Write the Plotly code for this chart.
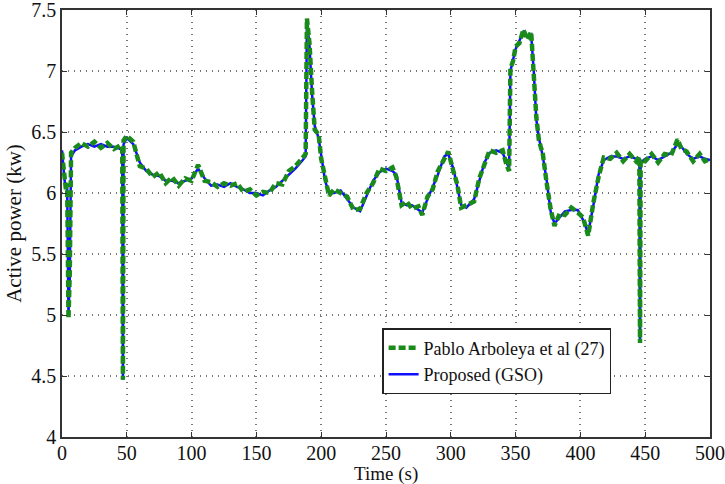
import plotly.graph_objects as go

time_s = [0, 2, 3, 4, 5, 6, 7, 10, 15, 20, 25, 30, 35, 40, 45, 46.5, 47, 47.5, 50, 55,
          60, 65, 70, 75, 80, 85, 90, 95, 100, 105, 110, 115, 120, 125, 130, 135, 140, 145, 150, 155,
          160, 165, 170, 175, 180, 185, 188, 189, 191, 193, 195, 198, 200, 203, 206, 210, 215, 220, 225, 230,
          235, 240, 245, 250, 255, 258, 262, 266, 270, 275, 278, 282, 286, 290, 295, 298, 302, 305, 308, 312,
          318, 322, 326, 330, 335, 340, 343, 345, 346, 348, 350, 353, 356, 359, 362, 364, 366, 368, 371, 374,
          377, 380, 384, 388, 393, 398, 402, 406, 410, 414, 418, 423, 428, 433, 438, 443, 445.5, 446, 446.5, 450,
          455, 460, 465, 470, 475, 478, 482, 487, 492, 496, 500]

proposed_gso = [6.35, 6.10, 6.05, 6.05, 5.00, 5.30, 6.30, 6.35, 6.38, 6.40, 6.38, 6.40, 6.38, 6.38, 6.36, 6.36, 4.47, 6.40, 6.45, 6.40,
                6.25, 6.18, 6.15, 6.14, 6.10, 6.10, 6.08, 6.10, 6.12, 6.20, 6.12, 6.06, 6.07, 6.05, 6.08, 6.05, 6.03, 6.00, 6.00, 5.98,
                6.02, 6.05, 6.10, 6.15, 6.20, 6.26, 6.30, 7.42, 7.20, 6.80, 6.55, 6.45, 6.30, 6.10, 6.00, 6.00, 6.02, 5.95, 5.88, 5.85,
                5.98, 6.10, 6.17, 6.20, 6.18, 6.15, 5.92, 5.90, 5.90, 5.86, 5.84, 5.95, 6.05, 6.15, 6.30, 6.32, 6.20, 6.05, 5.90, 5.88,
                5.95, 6.10, 6.25, 6.33, 6.35, 6.33, 6.25, 6.20, 7.00, 7.10, 7.18, 7.25, 7.32, 7.28, 7.30, 7.00, 6.60, 6.45, 6.30, 6.10,
                5.85, 5.75, 5.80, 5.85, 5.86, 5.86, 5.78, 5.67, 5.90, 6.15, 6.27, 6.30, 6.30, 6.28, 6.30, 6.28, 6.28, 4.77, 6.25, 6.28,
                6.30, 6.27, 6.30, 6.33, 6.40, 6.38, 6.32, 6.28, 6.30, 6.28, 6.27]

pablo_arboleya = [6.33, 6.12, 6.03, 6.08, 4.97, 5.35, 6.33, 6.37, 6.41, 6.38, 6.42, 6.37, 6.41, 6.36, 6.39, 6.38, 4.47, 6.43, 6.47, 6.42,
                  6.22, 6.20, 6.13, 6.17, 6.08, 6.13, 6.06, 6.12, 6.10, 6.23, 6.10, 6.09, 6.05, 6.08, 6.06, 6.08, 6.01, 6.03, 5.98, 6.01,
                  6.00, 6.08, 6.07, 6.18, 6.22, 6.28, 6.32, 7.43, 7.22, 6.83, 6.52, 6.48, 6.28, 6.13, 5.98, 6.03, 6.00, 5.97, 5.86, 5.87,
                  6.00, 6.08, 6.20, 6.18, 6.21, 6.13, 5.90, 5.93, 5.87, 5.89, 5.82, 5.97, 6.03, 6.18, 6.28, 6.34, 6.18, 6.07, 5.88, 5.90,
                  5.93, 6.12, 6.23, 6.35, 6.33, 6.35, 6.23, 6.18, 7.02, 7.08, 7.20, 7.23, 7.34, 7.26, 7.32, 6.98, 6.62, 6.43, 6.32, 6.08,
                  5.87, 5.73, 5.83, 5.82, 5.88, 5.84, 5.80, 5.65, 5.92, 6.13, 6.29, 6.28, 6.33, 6.26, 6.32, 6.26, 6.30, 4.77, 6.27, 6.26,
                  6.32, 6.25, 6.32, 6.31, 6.44, 6.36, 6.34, 6.26, 6.32, 6.26, 6.28]

x_ticks = [0, 50, 100, 150, 200, 250, 300, 350, 400, 450, 500]
y_ticks = [4, 4.5, 5, 5.5, 6, 6.5, 7, 7.5]
y_tick_labels = ["4", "4.5", "5", "5.5", "6", "6.5", "7", "7.5"]

font_family = "Times New Roman, Liberation Serif, DejaVu Serif, serif"

fig = go.Figure()
fig.add_trace(go.Scatter(x=time_s, y=proposed_gso, mode="lines", name="Proposed (GSO)",
                         line=dict(color="#1010ff", width=2.5)))
fig.add_trace(go.Scatter(x=time_s, y=pablo_arboleya, mode="lines", name="Pablo Arboleya et al (27)",
                         line=dict(color="#1a8a1a", width=4.5, dash="7px,3px")))

axis_common = dict(showline=True, linecolor="#333333", linewidth=1.5, mirror="ticks",
                   ticks="inside", ticklen=5, tickcolor="#333333", automargin=False,
                   ticklabeloverflow="allow",
                   showgrid=True, gridcolor="#777777", griddash="1px,5px", gridwidth=1.5,
                   zeroline=False, tickfont=dict(family=font_family, size=20, color="#111111"))

fig.update_layout(
    width=725, height=484,
    margin=dict(l=62, r=15, t=10, b=47),
    paper_bgcolor="white", plot_bgcolor="white",
    showlegend=True,
    legend=dict(x=0.494, y=0.255, xanchor="left", yanchor="top",
                bgcolor="white", bordercolor="#222222", borderwidth=1.5,
                font=dict(family=font_family, size=18, color="#111111"),
                traceorder="reversed", tracegroupgap=0, itemwidth=30),
    xaxis=dict(range=[0, 500], tickvals=x_ticks, ticklabelstandoff=-3, **axis_common),
    yaxis=dict(range=[4, 7.5], tickvals=y_ticks, ticktext=y_tick_labels,
               title=dict(text="Active power (kw)", font=dict(family=font_family, size=21, color="#111111"), standoff=4),
               **axis_common),
    annotations=[dict(text="Time (s)", xref="paper", yref="paper", x=0.5, y=0,
                      xanchor="center", yanchor="top", yshift=-24, showarrow=False,
                      font=dict(family=font_family, size=19, color="#111111"))],
)

fig.write_html("out.html", config={"displayModeBar": False},
               post_script="document.body.style.margin='0px';")
